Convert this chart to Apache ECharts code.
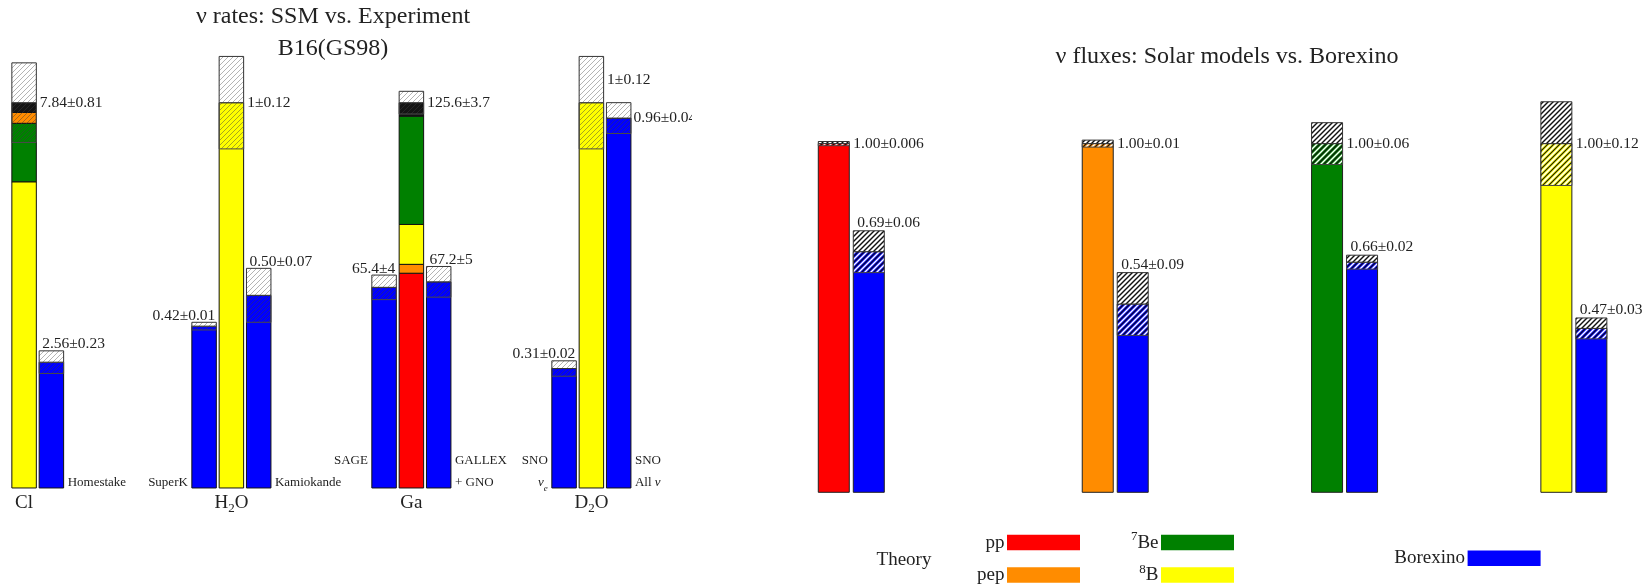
<!DOCTYPE html>
<html>
<head>
<meta charset="utf-8">
<script src="https://cdn.jsdelivr.net/npm/echarts@6/dist/echarts.min.js"></script>
<style>
  html, body { margin: 0; padding: 0; background: #ffffff; }
  #chart { width: 1652px; height: 586px; }
</style>
</head>
<body>
<div id="chart"></div>
<script>
// ---------------- Left panel: detection rates, SSM B16(GS98) vs. experiments ----------------
const rateTargets = ['Cl', 'H2O', 'Ga', 'D2O'];
const rateTargetLabels = ['Cl', 'H{sub|2}O', 'Ga', 'D{sub|2}O'];
// SSM prediction per target (SNU for Cl and Ga, ratio to SSM for the water detectors)
const rateTheory = [7.84, 1, 125.6, 1];
const rateTheoryErr = [0.81, 0.12, 3.7, 0.12];
const rateTheoryDigits = [[2, 2], [0, 2], [1, 1], [0, 2]];
// SSM composition per target, bottom to top
const clParts = [['8B', 6.23], ['7Be', 1.19], ['pep', 0.22], ['CNO', 0.20]];
const h2oParts = [['8B', 1]];
const gaParts = [['pp', 70.0], ['pep', 2.9], ['8B', 13.0], ['7Be', 35.3], ['CNO', 4.4]];
const d2oParts = [['8B', 1]];
const rateTheoryParts = [clParts, h2oParts, gaParts, d2oParts];

// measured rates (same units as the SSM value of their target)
const rateExpNames = ['Homestake', 'SuperK', 'Kamiokande', 'SAGE\n ', 'GALLEX\n+ GNO', 'SNO\n{it|ν}{subi|e}', 'SNO\nAll {it|ν}'];
const rateExpTarget = [0, 1, 1, 2, 2, 3, 3];
const rateExpValue = [2.56, 0.42, 0.50, 65.4, 67.2, 0.31, 0.96];
const rateExpErr = [0.23, 0.01, 0.07, 4, 5, 0.02, 0.04];
const rateExpDigits = [[2, 2], [2, 2], [2, 2], [1, 0], [1, 0], [2, 2], [2, 2]];

// ---------------- Right panel: fluxes, solar models vs. Borexino ----------------
const fluxNames = ['pp', 'pep', '7Be', '8B'];
const fluxLegendLabels = ['pp', 'pep', '{sup|7}Be', '{sup|8}B'];
const fluxTheory = [1.00, 1.00, 1.00, 1.00];
const fluxTheoryErr = [0.006, 0.01, 0.06, 0.12];
const fluxTheoryDigits = [[2, 3], [2, 2], [2, 2], [2, 2]];
const fluxBorexino = [0.69, 0.54, 0.66, 0.47];
const fluxBorexinoErr = [0.06, 0.09, 0.02, 0.03];
const fluxBorexinoDigits = [[2, 2], [2, 2], [2, 2], [2, 2]];

// ---------------- layout & style ----------------
const FONT = '"Liberation Serif", "DejaVu Serif", serif';
const INK = '#222222';
const SOURCE_COLOR = { pp: '#ff0000', pep: '#ff8c00', '7Be': '#008000', '8B': '#ffff00', CNO: '#141414' };
const EXP_COLOR = '#0000ff';

// slot of each bar inside its target group (-1 left, 0 middle, +1 right)
const rateTheorySlot = [-1, 0, 0, 0];
const rateExpSlot = [0, -1, 1, -1, 1, -1, 1];
const rateTheoryLabelAt = ['center', 'center', 'center', 'upper'];
const rateExpLabelAt = ['above-start', 'above-end', 'above-start', 'above-end', 'above-start', 'above-end', 'side'];
const RATE_PITCH = 0.1517, RATE_BAR = 0.136;

const fluxGroupPos = [0, 1.151, 2.151, 3.151];
const FLUX_PITCH = 0.1526, FLUX_BAR = 0.1352;

// diagonal hatch tiles used as pattern fills
function hatchTile(size, bg, strokes) {
  const c = document.createElement('canvas');
  c.width = size; c.height = size;
  const g = c.getContext('2d');
  if (bg) { g.fillStyle = bg; g.fillRect(0, 0, size, size); }
  strokes.forEach(s => {
    g.strokeStyle = s.color; g.lineWidth = s.width;
    for (let k = -1; k <= 1; k++) {
      const o = k * size + s.offset;
      g.beginPath(); g.moveTo(o - 1, size + 1); g.lineTo(o + size + 1, -1); g.stroke();
    }
  });
  return { image: c, repeat: 'repeat' };
}
const HATCH = {
  rateUpper: hatchTile(5, '#ffffff', [{ color: '#b4b4b4', width: 1, offset: 0 }]),
  rateLower: hatchTile(5, null, [{ color: 'rgba(60,60,60,0.45)', width: 1, offset: 0 }]),
  fluxUpper: hatchTile(5, '#ffffff', [{ color: '#111111', width: 1.4, offset: 0 }]),
  fluxLower: hatchTile(6, null, [{ color: '#ffffff', width: 1.4, offset: 3 }, { color: '#111111', width: 1.1, offset: 0 }])
};

function richFor(size) {
  const small = Math.round(size * 0.68);
  const base = { fontFamily: FONT, fill: INK };
  return {
    it: Object.assign({ fontSize: size, fontStyle: 'italic' }, base),
    sub: Object.assign({ fontSize: small, lineHeight: small, verticalAlign: 'bottom' }, base),
    subi: Object.assign({ fontSize: small, lineHeight: small + 8, verticalAlign: 'bottom', fontStyle: 'italic' }, base),
    sup: Object.assign({ fontSize: small, lineHeight: small, verticalAlign: 'top' }, base)
  };
}
function textStyle(l) {
  return {
    text: l.text, fill: INK, fontSize: l.size, fontFamily: FONT, fontWeight: 'normal',
    align: l.align, textAlign: l.align, verticalAlign: l.vAlign, textVerticalAlign: l.vAlign,
    lineHeight: l.lineHeight || Math.round(l.size * 1.2), rich: richFor(l.size)
  };
}
const pm = (v, e, d) => v.toFixed(d[0]) + '±' + e.toFixed(d[1]);

// ---------------- left panel marks ----------------
const rateTheoryX = i => i + rateTheorySlot[i] * RATE_PITCH;
const rateExpX = j => rateExpTarget[j] + rateExpSlot[j] * RATE_PITCH;
const rateSegs = [], rateLabels = [];

rateTargets.forEach((t, i) => {
  const x = rateTheoryX(i), n = rateTheory[i], e = rateTheoryErr[i] / n;
  let acc = 0;
  rateTheoryParts[i].forEach(([src, v]) => {
    rateSegs.push({ x, y0: acc / n, y1: (acc + v) / n, fill: SOURCE_COLOR[src], stroke: '#111' });
    acc += v;
  });
  rateSegs.push({ x, y0: 1 - e, y1: 1, fill: HATCH.rateLower, stroke: '#4a4a4a' });
  rateSegs.push({ x, y0: 1, y1: 1 + e, fill: HATCH.rateUpper, stroke: '#333' });
  rateLabels.push({ x: x + RATE_BAR / 2, y: rateTheoryLabelAt[i] === 'upper' ? 1 + e / 2 : 1, dx: 3.5, dy: 0,
    text: pm(rateTheory[i], rateTheoryErr[i], rateTheoryDigits[i]), size: 15.5, align: 'left', vAlign: 'middle' });
  rateLabels.push({ x, y: 0, dx: 0, dy: 15, text: rateTargetLabels[i], size: 19, align: 'center', vAlign: 'middle', lineHeight: 25 });
});

rateExpValue.forEach((v, j) => {
  const x = rateExpX(j), n = rateTheory[rateExpTarget[j]];
  const c = v / n, e = rateExpErr[j] / n;
  rateSegs.push({ x, y0: 0, y1: c, fill: EXP_COLOR, stroke: '#111' });
  rateSegs.push({ x, y0: c - e, y1: c, fill: HATCH.rateLower, stroke: '#4a4a4a' });
  rateSegs.push({ x, y0: c, y1: c + e, fill: HATCH.rateUpper, stroke: '#333' });
  const txt = pm(v, rateExpErr[j], rateExpDigits[j]);
  const at = rateExpLabelAt[j];
  if (at === 'side') {
    rateLabels.push({ x: x + RATE_BAR / 2, y: c, dx: 2.6, dy: 0, text: txt, size: 15.5, align: 'left', vAlign: 'middle' });
  } else if (at === 'above-end') {
    rateLabels.push({ x: x + RATE_BAR / 2, y: c + e, dx: -1, dy: -6.5, text: txt, size: 15.5, align: 'right', vAlign: 'middle' });
  } else {
    rateLabels.push({ x: x - RATE_BAR / 2, y: c + e, dx: 3, dy: -6.5, text: txt, size: 15.5, align: 'left', vAlign: 'middle' });
  }
  const leftSide = rateExpSlot[j] < 0;
  rateLabels.push({ x: leftSide ? x - RATE_BAR / 2 : x + RATE_BAR / 2, y: 0, dx: leftSide ? -4 : 4, dy: 5.5,
    text: rateExpNames[j], size: 13, align: leftSide ? 'right' : 'left', vAlign: 'bottom', lineHeight: 22 });
});

// ---------------- right panel marks ----------------
const fluxSegs = [], fluxLabels = [];
fluxNames.forEach((nm, i) => {
  const xt = fluxGroupPos[i], xb = xt + FLUX_PITCH;
  const t = fluxTheory[i], te = fluxTheoryErr[i];
  fluxSegs.push({ x: xt, y0: 0, y1: t, fill: SOURCE_COLOR[nm], stroke: '#222' });
  fluxSegs.push({ x: xt, y0: t - te, y1: t, fill: HATCH.fluxLower, stroke: '#444' });
  fluxSegs.push({ x: xt, y0: t, y1: t + te, fill: HATCH.fluxUpper, stroke: '#333' });
  fluxLabels.push({ x: xt + FLUX_BAR / 2, y: t, dx: 4, dy: 0, text: pm(t, te, fluxTheoryDigits[i]), size: 15.5, align: 'left', vAlign: 'middle' });

  const b = fluxBorexino[i], be = fluxBorexinoErr[i];
  fluxSegs.push({ x: xb, y0: 0, y1: b, fill: EXP_COLOR, stroke: '#222' });
  fluxSegs.push({ x: xb, y0: b - be, y1: b, fill: HATCH.fluxLower, stroke: '#444' });
  fluxSegs.push({ x: xb, y0: b, y1: b + be, fill: HATCH.fluxUpper, stroke: '#333' });
  fluxLabels.push({ x: xb - FLUX_BAR / 2, y: b + be, dx: 4, dy: -8, text: pm(b, be, fluxBorexinoDigits[i]), size: 15.5, align: 'left', vAlign: 'middle' });
});

// ---------------- renderers ----------------
function barRenderer(segs, width) {
  return function (params, api) {
    const s = segs[params.dataIndex];
    const tl = api.coord([s.x - width / 2, s.y1]);
    const br = api.coord([s.x + width / 2, s.y0]);
    return {
      type: 'rect',
      shape: { x: tl[0], y: tl[1], width: br[0] - tl[0], height: br[1] - tl[1] },
      style: { fill: s.fill, stroke: s.stroke, lineWidth: 1 }
    };
  };
}
function labelRenderer(labels) {
  return function (params, api) {
    const l = labels[params.dataIndex];
    const p = api.coord([l.x, l.y]);
    return { type: 'text', x: p[0] + l.dx, y: p[1] + l.dy, style: textStyle(l) };
  };
}

// ---------------- legend (Theory sources + Borexino) ----------------
const legendCells = [[1007, 534.7], [1007, 567.3], [1161, 534.7], [1161, 567.3]];
const legendGraphics = [
  { type: 'text', x: 904, y: 560.5, style: textStyle({ text: 'Theory', size: 19, align: 'center', vAlign: 'middle' }) },
  { type: 'text', x: 1465, y: 558.5, style: textStyle({ text: 'Borexino', size: 19, align: 'right', vAlign: 'middle' }) },
  { type: 'rect', shape: { x: 1467.6, y: 550.5, width: 73, height: 15.5 }, style: { fill: EXP_COLOR } }
];
fluxNames.forEach((nm, i) => {
  const [cx, cy] = legendCells[i];
  legendGraphics.push({ type: 'rect', shape: { x: cx, y: cy, width: 73, height: 15.5 }, style: { fill: SOURCE_COLOR[nm] } });
  legendGraphics.push({ type: 'text', x: cx - 2.5, y: cy + 8, style: textStyle({ text: fluxLegendLabels[i], size: 19, align: 'right', vAlign: 'middle', lineHeight: 25 }) });
});

const titleStyle = { fontFamily: FONT, fontSize: 24, fontWeight: 'normal', color: INK, lineHeight: 31.5 };

const chart = echarts.init(document.getElementById('chart'), null, { renderer: 'canvas' });
chart.setOption({
  animation: false,
  backgroundColor: '#ffffff',
  title: [
    { text: 'ν rates: SSM vs. Experiment\nB16(GS98)', left: 333, top: 1, textAlign: 'center', padding: 0, textStyle: titleStyle },
    { text: 'ν fluxes: Solar models vs. Borexino', left: 1227, top: 40.5, textAlign: 'center', padding: 0, textStyle: titleStyle }
  ],
  grid: [
    { left: 1, top: 25.6, width: 691, height: 558.7, containLabel: false },
    { left: 765, top: 39, width: 871.4, height: 453.3, containLabel: false }
  ],
  xAxis: [
    { type: 'value', gridIndex: 0, min: -0.28, max: 3.559, show: false, splitLine: { show: false } },
    { type: 'value', gridIndex: 1, min: -0.3, max: 3.5, show: false, splitLine: { show: false } }
  ],
  yAxis: [
    { type: 'value', gridIndex: 0, min: -0.25, max: 1.2, show: false, splitLine: { show: false } },
    { type: 'value', gridIndex: 1, min: 0, max: 1.3, show: false, splitLine: { show: false } }
  ],
  series: [
    { type: 'custom', name: 'rates', xAxisIndex: 0, yAxisIndex: 0, clip: true, silent: true,
      data: rateSegs.map(s => [s.x, s.y0, s.y1]), encode: { x: 0, y: [1, 2] },
      renderItem: barRenderer(rateSegs, RATE_BAR) },
    { type: 'custom', name: 'rate labels', xAxisIndex: 0, yAxisIndex: 0, clip: true, silent: true,
      data: rateLabels.map(l => [l.x, l.y]), encode: { x: 0, y: 1 },
      renderItem: labelRenderer(rateLabels) },
    { type: 'custom', name: 'fluxes', xAxisIndex: 1, yAxisIndex: 1, silent: true,
      data: fluxSegs.map(s => [s.x, s.y0, s.y1]), encode: { x: 0, y: [1, 2] },
      renderItem: barRenderer(fluxSegs, FLUX_BAR) },
    { type: 'custom', name: 'flux labels', xAxisIndex: 1, yAxisIndex: 1, silent: true,
      data: fluxLabels.map(l => [l.x, l.y]), encode: { x: 0, y: 1 },
      renderItem: labelRenderer(fluxLabels) }
  ],
  graphic: legendGraphics
});
</script>
</body>
</html>
